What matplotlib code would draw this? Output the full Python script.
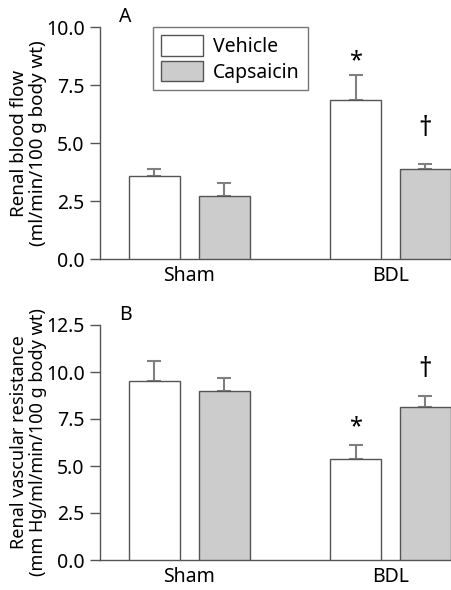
import matplotlib
matplotlib.use("Agg")
import matplotlib.pyplot as plt
from matplotlib.patches import Patch
import numpy as np

groups = ["Sham", "BDL"]
series = ["Vehicle", "Capsaicin"]
rbf_vehicle = [3.6, 6.88]
rbf_vehicle_err = [0.3, 1.05]
rbf_caps = [2.72, 3.9]
rbf_caps_err = [0.57, 0.19]
rvr_vehicle = [9.5, 5.39]
rvr_vehicle_err = [1.08, 0.73]
rvr_caps = [8.97, 8.12]
rvr_caps_err = [0.69, 0.6]
a_ticks = [0.0, 2.5, 5.0, 7.5, 10.0]
b_ticks = [0.0, 2.5, 5.0, 7.5, 10.0, 12.5]

plt.rcParams['font.family'] = ['Noto Sans', 'DejaVu Sans']
W, H = 452, 590
fig = plt.figure(figsize=(W/100, H/100), dpi=100)

edge = "#555555"
fillc = "#cccccc"
bw = 0.254
off = 0.174
x = np.arange(len(groups))
fs = 14

def panel(rect, veh, veh_err, cap, cap_err, ylim, ticks, ylabel, lab_fs, letter, star_y, dag_y):
    ax = fig.add_axes(rect)
    ax.bar(x - off, veh, bw, color="white", edgecolor=edge, linewidth=1.0, zorder=3)
    ax.bar(x + off, cap, bw, color=fillc, edgecolor=edge, linewidth=1.0, zorder=3)
    ax.errorbar(x - off, veh, yerr=[np.zeros(2), veh_err], fmt="none", ecolor="#808080",
                elinewidth=1.5, capsize=5, capthick=1.5, zorder=2)
    ax.errorbar(x + off, cap, yerr=[np.zeros(2), cap_err], fmt="none", ecolor="#808080",
                elinewidth=1.5, capsize=5, capthick=1.5, zorder=2)
    ax.set_xlim(-0.445, 1.306)
    ax.set_ylim(*ylim)
    ax.set_yticks(ticks)
    ax.set_yticklabels([f"{t:.1f}" for t in ticks], fontsize=fs)
    ax.set_xticks(x)
    ax.set_xticklabels(groups, fontsize=fs)
    ax.tick_params(axis="x", length=0, pad=5)
    ax.tick_params(axis="y", length=7, width=1, color=edge, pad=4, direction="out")
    for s in ["top", "right"]:
        ax.spines[s].set_visible(False)
    for s in ["left", "bottom"]:
        ax.spines[s].set_color(edge)
        ax.spines[s].set_linewidth(1.0)
    ax.set_ylabel(ylabel, fontsize=lab_fs, linespacing=1.05)
    ax.yaxis.set_label_coords(-0.15, 0.5)
    ax.text(x[1] - off, star_y, "*", ha="center", va="center", fontsize=17, fontweight="bold")
    ax.text(x[1] + off, dag_y, "\u2020", ha="center", va="center", fontsize=19)
    ax.text(-0.35, ylim[1], letter, ha="left", va="bottom", fontsize=fs, clip_on=False)
    return ax

axA = panel([100/W, 1 - 259/H, 352/W, (259 - 27.3)/H], rbf_vehicle, rbf_vehicle_err,
            rbf_caps, rbf_caps_err, (0, 10.0), a_ticks,
            "Renal blood flow\n(ml/min/100 g body wt)", 13.5, "A", 8.55, 5.6)
axB = panel([100/W, 1 - 560/H, 352/W, (560 - 325)/H], rvr_vehicle, rvr_vehicle_err,
            rvr_caps, rvr_caps_err, (0, 12.5), b_ticks,
            "Renal vascular resistance\n(mm Hg/ml/min/100 g body wt)", 13.0, "B", 7.05, 10.1)

handles = [Patch(facecolor="white", edgecolor=edge, label=series[0]),
           Patch(facecolor=fillc, edgecolor=edge, label=series[1])]
leg = axA.legend(handles=handles, loc="upper left", bbox_to_anchor=(0.15, 1.0),
                 fontsize=fs, frameon=True, fancybox=False, edgecolor=edge,
                 handlelength=2.2, handleheight=1.25, borderpad=0.4, labelspacing=0.2,
                 handletextpad=0.5, borderaxespad=0.0)
leg.get_frame().set_linewidth(1.0)

fig.savefig("out.png", dpi=100)
